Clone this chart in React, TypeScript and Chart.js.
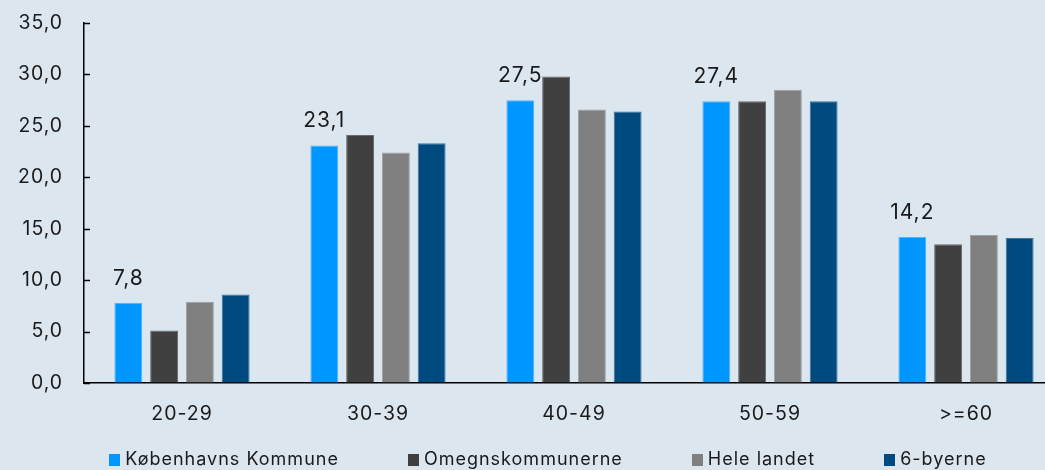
import React, { useEffect, useRef } from "react";
import { Chart, registerables } from "chart.js";

Chart.register(...registerables);

const categories = ["20-29", "30-39", "40-49", "50-59", ">=60"];
const seriesNames = ["Københavns Kommune", "Omegnskommunerne", "Hele landet", "6-byerne"];
const kbhValues = [7.8, 23.1, 27.5, 27.4, 14.2];
const omegnValues = [5.1, 24.1, 29.8, 27.4, 13.5];
const heleLandetValues = [7.9, 22.4, 26.6, 28.5, 14.4];
const seksByerValues = [8.6, 23.3, 26.4, 27.4, 14.1];
const seriesColors = ["#0096FF", "#404040", "#808080", "#004A80"];
const seriesBorders = ["#4DB5FF", "#6A6A6A", "#A0A0A0", "#3A73A0"];
const yMin = 0;
const yMax = 35;
const yStep = 5;

const FONT = "Inter, 'Noto Sans', sans-serif";
const TEXT = "#1a1a1a";
const BG = "#DCE6EF";
const SPACING = "1px";
const LEGEND_GAP = 69;

const fmt = (v: number, d: number) => v.toFixed(d).replace(".", ",");

const setSpacing = (ctx: any, s: string) => {
  if (ctx && "letterSpacing" in ctx) ctx.letterSpacing = s;
};

const customPlugin = {
  id: "customMarks",
  beforeUpdate(chart: any) {
    setSpacing(chart.ctx, SPACING);
  },
  beforeLayout(chart: any) {
    setSpacing(chart.ctx, SPACING);
  },
  beforeDraw(chart: any) {
    setSpacing(chart.ctx, SPACING);
  },
  afterDraw(chart: any) {
    const { ctx, chartArea, scales } = chart;
    const y = scales.y;
    ctx.save();
    setSpacing(ctx, SPACING);
    // inward y tick marks
    ctx.strokeStyle = "#000";
    ctx.lineWidth = 1.5;
    y.ticks.forEach((t: any) => {
      const py = Math.round(y.getPixelForValue(t.value)) + 0.5;
      ctx.beginPath();
      ctx.moveTo(chartArea.left, py);
      ctx.lineTo(chartArea.left + 6, py);
      ctx.stroke();
    });
    // data labels for first series
    const meta = chart.getDatasetMeta(0);
    ctx.fillStyle = TEXT;
    ctx.font = `21px ${FONT}`;
    ctx.textAlign = "center";
    ctx.textBaseline = "middle";
    meta.data.forEach((el: any, i: number) => {
      ctx.fillText(fmt(kbhValues[i], 1), el.x, el.y - 24.5);
    });
    // legend
    ctx.font = `18px ${FONT}`;
    const widths = seriesNames.map((n) => ctx.measureText(n).width);
    const itemW = widths.map((w) => 11 + 5 + w);
    const total = itemW.reduce((a, b) => a + b, 0) + LEGEND_GAP * (seriesNames.length - 1);
    const center = (chartArea.left + chartArea.right) / 2 - 26;
    let x = center - total / 2;
    const boxTop = chart.height - 16;
    seriesNames.forEach((name, i) => {
      ctx.fillStyle = seriesColors[i];
      ctx.fillRect(Math.round(x), boxTop, 11, 12);
      ctx.fillStyle = TEXT;
      ctx.textAlign = "left";
      ctx.textBaseline = "middle";
      ctx.fillText(name, x + 16, boxTop + 5.5);
      x += itemW[i] + LEGEND_GAP;
    });
    ctx.restore();
  },
};

export default function App() {
  const ref = useRef<HTMLCanvasElement | null>(null);
  useEffect(() => {
    if (!ref.current) return;
    const all = [kbhValues, omegnValues, heleLandetValues, seksByerValues];
    const chart = new Chart(ref.current, {
      type: "bar",
      data: {
        labels: categories,
        datasets: all.map((vals, i) => ({
          label: seriesNames[i],
          data: vals,
          backgroundColor: seriesColors[i],
          borderColor: seriesBorders[i],
          borderWidth: 1,
          categoryPercentage: 0.73,
          barPercentage: 0.78,
        })),
      },
      options: {
        responsive: false,
        animation: false,
        devicePixelRatio: 1,
        layout: { padding: { left: 0, top: 23, right: 0, bottom: 50 } },
        plugins: {
          tooltip: { enabled: false },
          legend: { display: false },
        },
        scales: {
          x: {
            grid: { display: false },
            border: { display: true, color: "#000", width: 1.5 },
            ticks: { color: TEXT, font: { family: FONT, size: 19.5 }, padding: 11 },
            afterFit: (s: any) => {
              s.height = 37;
            },
          },
          y: {
            min: yMin,
            max: yMax,
            grid: {
              display: true,
              drawOnChartArea: false,
              drawTicks: true,
              tickLength: 21,
              color: "rgba(0,0,0,0)",
            },
            border: { display: true, color: "#000", width: 1.5 },
            ticks: {
              stepSize: yStep,
              padding: 0,
              color: TEXT,
              font: { family: FONT, size: 19.4 },
              callback: (v: any) => fmt(Number(v), 1),
            },
            afterFit: (s: any) => {
              s.width = 84;
            },
          },
        },
      },
      plugins: [customPlugin],
    });
    return () => chart.destroy();
  }, []);

  return (
    <div
      style={{
        position: "absolute",
        left: 0,
        top: 0,
        width: 1045,
        height: 470,
        overflow: "hidden",
        background: BG,
      }}
    >
      <canvas ref={ref} width={1064} height={470} style={{ display: "block" }} />
    </div>
  );
}
